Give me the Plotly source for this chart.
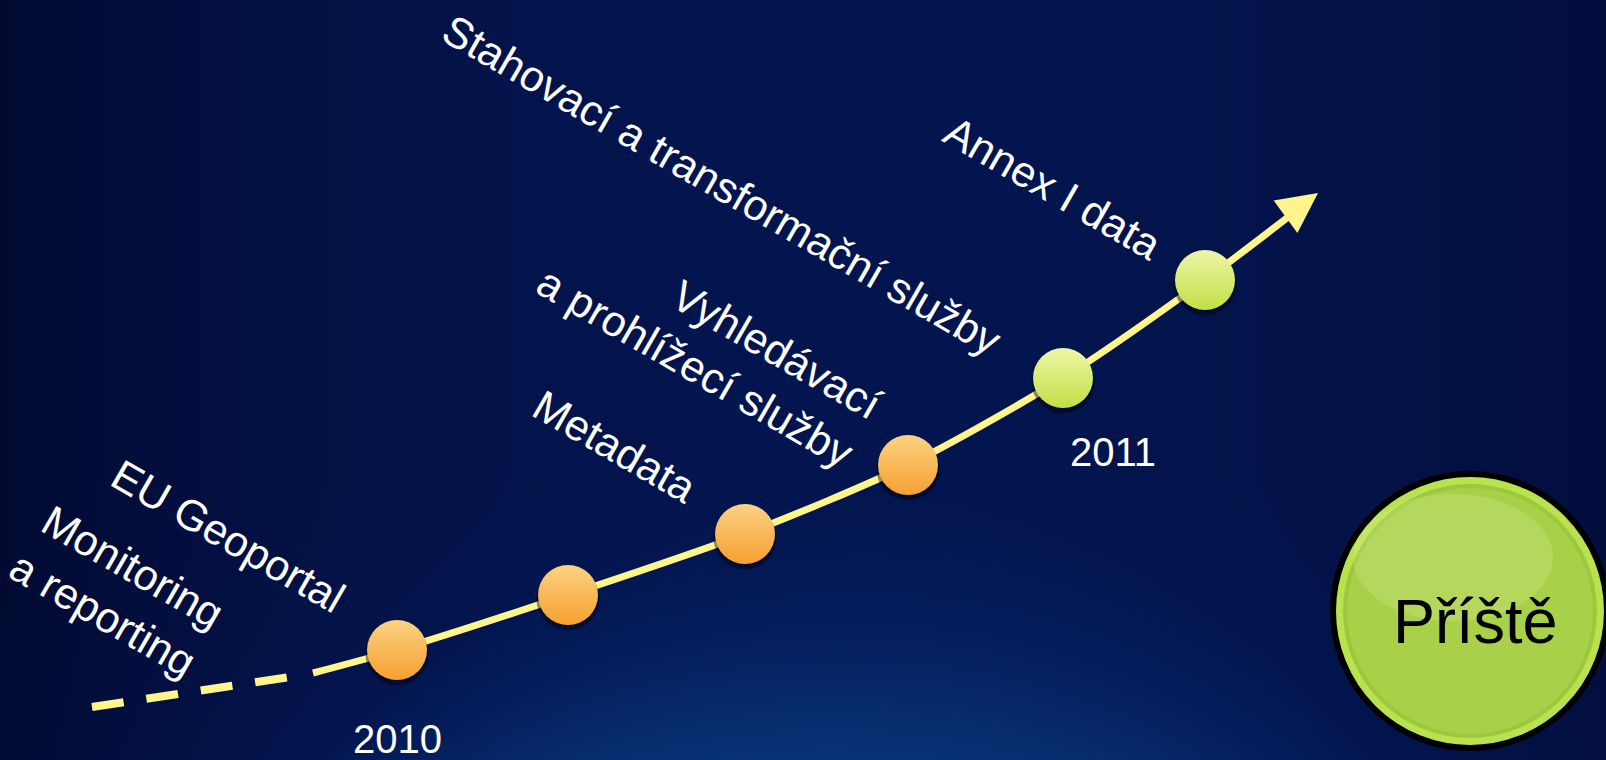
import numpy as np
import plotly.graph_objects as go

W, H = 1606, 760

# ---- data ----
milestone_x = [397, 568, 745, 908, 1063, 1205]
milestone_y = [650, 595, 534, 465, 378, 280]
milestone_phase = ["done", "done", "done", "done", "next", "next"]

curve_x = [313, 397, 568, 745, 908, 1063, 1205, 1296]
curve_y = [673, 650, 595, 534, 465, 378, 280, 211]

dash_x = [92, 290]
dash_y = [707, 677]

arrow_tip = (1318, 193)
arrow_tail = (1288, 215)

labels = [
    ("Stahovací a transformační služby", 722, 185, 30, "center"),
    ("Annex I data", 1053, 188, 30, "center"),
    ("Vyhledávací<br>a prohlížecí služby", 709, 343, 30, "right"),
    ("Metadata", 614, 446, 30, "center"),
    ("EU Geoportal", 228, 536, 30, "center"),
    ("Monitoring<br>a reporting", 117, 590, 30, "right"),
]
year_labels = ["2010", "2011"]
year_x = [397, 1113]
year_y = [739, 452]

next_label = "Příště"
next_center = (1470, 611)
next_radius = 137

FONT = "Arial, 'Liberation Sans', sans-serif"

fig = go.Figure()

# ---- background gradient ----
gx = np.linspace(0, W, 81)
gy = np.linspace(0, H, 41)
X, Y = np.meshgrid(gx / W, gy / H)
hx = np.clip(1 - ((X - 0.55) / 0.6) ** 2, 0, 1) ** 0.6
glow = np.exp(-((X - 0.5) / 0.35) ** 2) * np.clip((Y - 0.6) / 0.4, 0, 1) ** 2
Z = 0.62 * hx + 0.3 * glow
fig.add_trace(go.Heatmap(
    x=gx, y=gy, z=Z, zsmooth="best", showscale=False, hoverinfo="skip",
    zmin=0, zmax=1,
    colorscale=[[0, "#010624"], [0.35, "#020d3a"], [0.62, "#03154f"],
                [0.8, "#06286a"], [1, "#0a3c80"]],
))

# ---- dashed lead-in ----
fig.add_trace(go.Scatter(
    x=dash_x, y=dash_y, mode="lines", hoverinfo="skip",
    line=dict(color="#FFF58C", width=8, dash="32px,23px"),
))

# ---- timeline curve ----
fig.add_trace(go.Scatter(
    x=curve_x, y=curve_y, mode="lines", hoverinfo="skip",
    line=dict(color="#FFF58C", width=7, shape="spline", smoothing=0.8),
))

# ---- milestone shadows ----
fig.add_trace(go.Scatter(
    x=milestone_x, y=[v + 4 for v in milestone_y], mode="markers", hoverinfo="skip",
    marker=dict(size=63, color="rgba(0,0,10,0.45)", line=dict(width=0)),
))

# ---- milestones ----
top_col = {"done": "#FCD283", "next": "#EEF6A8"}
bottom_col = {"done": "#F6A030", "next": "#C2DF44"}
fig.add_trace(go.Scatter(
    x=milestone_x, y=milestone_y, mode="markers", hoverinfo="skip",
    marker=dict(
        size=60,
        color=[top_col[p] for p in milestone_phase],
        gradient=dict(type="vertical", color=[bottom_col[p] for p in milestone_phase]),
        line=dict(width=0),
    ),
))

# ---- arrow head ----
fig.add_annotation(
    x=arrow_tip[0], y=arrow_tip[1], ax=arrow_tail[0], ay=arrow_tail[1],
    xref="x", yref="y", axref="x", ayref="y",
    showarrow=True, arrowhead=2, arrowsize=1.15, arrowwidth=7,
    arrowcolor="#FFF58C", text="",
)

# ---- labels ----
for txt, x, y, ang, al in labels:
    fig.add_annotation(
        x=x, y=y, xref="x", yref="y", text=txt, showarrow=False,
        textangle=ang, align=al, xanchor="center", yanchor="middle",
        font=dict(family=FONT, size=43, color="white"),
    )
for txt, x, y in zip(year_labels, year_x, year_y):
    fig.add_annotation(
        x=x, y=y, xref="x", yref="y", text=txt, showarrow=False,
        xanchor="center", yanchor="middle",
        font=dict(family=FONT, size=40, color="white"),
    )

# ---- "next" button ----
cx, cy = next_center
r = next_radius
fig.add_shape(type="circle", xref="x", yref="y",
              x0=cx - r, x1=cx + r, y0=cy - r, y1=cy + r,
              fillcolor="#B9E24E", line=dict(color="black", width=6), layer="above")
r2 = r - 10
fig.add_shape(type="circle", xref="x", yref="y",
              x0=cx - r2, x1=cx + r2, y0=cy - r2, y1=cy + r2,
              fillcolor="#9CC83E", line=dict(width=0), layer="above")
r3 = r - 14
fig.add_shape(type="circle", xref="x", yref="y",
              x0=cx - r3, x1=cx + r3, y0=cy - r3, y1=cy + r3,
              fillcolor="#A8D048", line=dict(width=0), layer="above")
fig.add_shape(type="circle", xref="x", yref="y",
              x0=cx - r3 + 6, x1=cx + r3 - 40, y0=cy - r3 + 6, y1=cy + 10,
              fillcolor="rgba(230,240,170,0.22)", line=dict(width=0), layer="above")
fig.add_annotation(
    x=cx + 5, y=cy + 10, xref="x", yref="y", text=next_label, showarrow=False,
    xanchor="center", yanchor="middle",
    font=dict(family=FONT, size=63, color="black"),
)

fig.update_xaxes(range=[0, W], visible=False, fixedrange=True)
fig.update_yaxes(range=[H, 0], visible=False, fixedrange=True)
fig.update_layout(
    width=W, height=H, margin=dict(l=0, r=0, t=0, b=0),
    paper_bgcolor="#020d3a", plot_bgcolor="#020d3a",
    showlegend=False,
)

fig.write_html(
    "out.html",
    config={"displayModeBar": False},
    post_script="document.body.style.margin='0px';document.body.style.overflow='hidden';",
)
